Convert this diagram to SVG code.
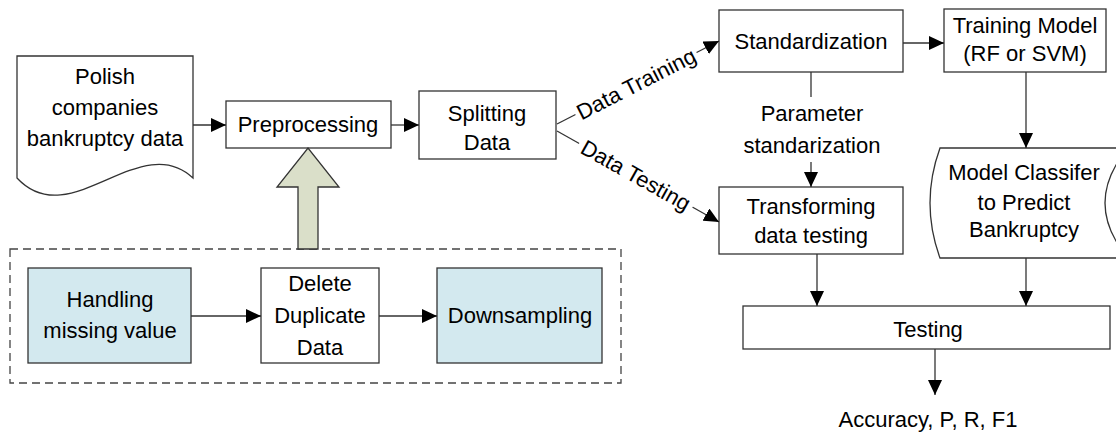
<svg xmlns="http://www.w3.org/2000/svg" width="1116" height="434" viewBox="0 0 1116 434">
  <defs>
    <marker id="ah" markerWidth="15" markerHeight="14" refX="15" refY="7" orient="auto" markerUnits="userSpaceOnUse">
      <path d="M0,0 L15,7 L0,14 Z" fill="#000"/>
    </marker>
    <style>
      .box { fill: #fff; stroke: #333; stroke-width: 1.3; }
      .blue { fill: #d3e9ef; stroke: #333; stroke-width: 1.3; }
      .t { font-family: "Liberation Sans", Arial, sans-serif; font-size: 22px; fill: #000; text-anchor: middle; }
      .ln { fill: none; stroke: #333; stroke-width: 1.3; }
      .arr { fill: none; stroke: #333; stroke-width: 1.3; marker-end: url(#ah); }
    </style>
  </defs>
  <rect width="1116" height="434" fill="#fff"/>

  <!-- preprocessing sub-steps container -->
  <rect id="prep-group" x="10" y="249" width="611" height="134" fill="none" stroke="#444" stroke-width="1.3" stroke-dasharray="8,5"/>

  <g id="source-data">
    <path class="box" d="M17,56 H193 V178 C140,128 70,235 17,178 Z"/>
    <text class="t" x="105" y="84">Polish</text>
    <text class="t" x="105" y="115">companies</text>
    <text class="t" x="105" y="146">bankruptcy data</text>
  </g>

  <g id="preprocessing">
    <rect class="box" x="226" y="101" width="165" height="47"/>
    <text class="t" x="308" y="132">Preprocessing</text>
  </g>

  <g id="splitting">
    <rect class="box" x="419" y="91" width="137" height="68"/>
    <text class="t" x="487" y="121">Splitting</text>
    <text class="t" x="487" y="150">Data</text>
  </g>

  <g id="standardization">
    <rect class="box" x="719" y="10" width="184" height="62"/>
    <text class="t" x="811" y="49">Standardization</text>
  </g>

  <g id="training-model">
    <rect class="box" x="944" y="9" width="162" height="63"/>
    <text class="t" x="1025" y="33">Training Model</text>
    <text class="t" x="1025" y="61">(RF or SVM)</text>
  </g>

  <g id="transforming">
    <rect class="box" x="719" y="187" width="184" height="67"/>
    <text class="t" x="811" y="214">Transforming</text>
    <text class="t" x="811" y="243">data testing</text>
  </g>

  <g id="classifier">
    <path class="box" d="M940,148 H1128 Q1082,203 1128,258 H940 Q920,203 940,148 Z"/>
    <text class="t" x="1024" y="180">Model Classifer</text>
    <text class="t" x="1024" y="210">to Predict</text>
    <text class="t" x="1024" y="237">Bankruptcy</text>
  </g>

  <g id="testing">
    <rect class="box" x="743" y="306" width="367" height="43"/>
    <text class="t" x="928" y="337">Testing</text>
  </g>

  <g id="result">
    <text class="t" x="928" y="427">Accuracy, P, R, F1</text>
  </g>

  <g id="handling">
    <rect class="blue" x="28" y="268" width="163" height="95"/>
    <text class="t" x="110" y="307">Handling</text>
    <text class="t" x="110" y="338">missing value</text>
  </g>

  <g id="delete-duplicate">
    <rect class="box" x="261" y="268" width="118" height="95"/>
    <text class="t" x="320" y="291">Delete</text>
    <text class="t" x="320" y="323">Duplicate</text>
    <text class="t" x="320" y="355">Data</text>
  </g>

  <g id="downsampling">
    <rect class="blue" x="437" y="268" width="165" height="95"/>
    <text class="t" x="520" y="323">Downsampling</text>
  </g>

  <g id="connectors">
    <line class="arr" x1="193" y1="125" x2="226" y2="125"/>
    <line class="arr" x1="391" y1="125" x2="419" y2="125"/>
    <line class="arr" x1="903" y1="43" x2="944" y2="43"/>
    <line class="arr" x1="1026" y1="72" x2="1026" y2="148"/>
    <line class="arr" x1="1026" y1="258" x2="1026" y2="306"/>
    <line class="arr" x1="817" y1="254" x2="817" y2="306"/>
    <line class="arr" x1="935" y1="349" x2="935" y2="395"/>
    <line class="arr" x1="191" y1="316" x2="261" y2="316"/>
    <line class="arr" x1="379" y1="316" x2="437" y2="316"/>

    <!-- parameter hand-off, broken by its label -->
    <line class="ln" x1="811" y1="72" x2="811" y2="97"/>
    <line class="arr" x1="811" y1="162" x2="811" y2="187"/>
    <text class="t" x="812" y="121">Parameter</text>
    <text class="t" x="812" y="153">standarization</text>

    <!-- split branches with inline labels -->
    <line class="arr" x1="557" y1="124" x2="719" y2="41"/>
    <g transform="translate(636,83.5) rotate(-27.1)">
      <rect x="-68" y="-11" width="136" height="22" fill="#fff"/>
      <text class="t" x="0" y="8">Data Training</text>
    </g>
    <line class="arr" x1="557" y1="131" x2="719" y2="222"/>
    <g transform="translate(636,175) rotate(29.3)">
      <rect x="-65" y="-11" width="130" height="22" fill="#fff"/>
      <text class="t" x="0" y="8">Data Testing</text>
    </g>

    <!-- block arrow from sub-steps up to preprocessing -->
    <path d="M298,249 V187 H277 L308,148 L339,187 H318 V249 Z" fill="#dadfc9" stroke="#333" stroke-width="1.3"/>
  </g>
</svg>
